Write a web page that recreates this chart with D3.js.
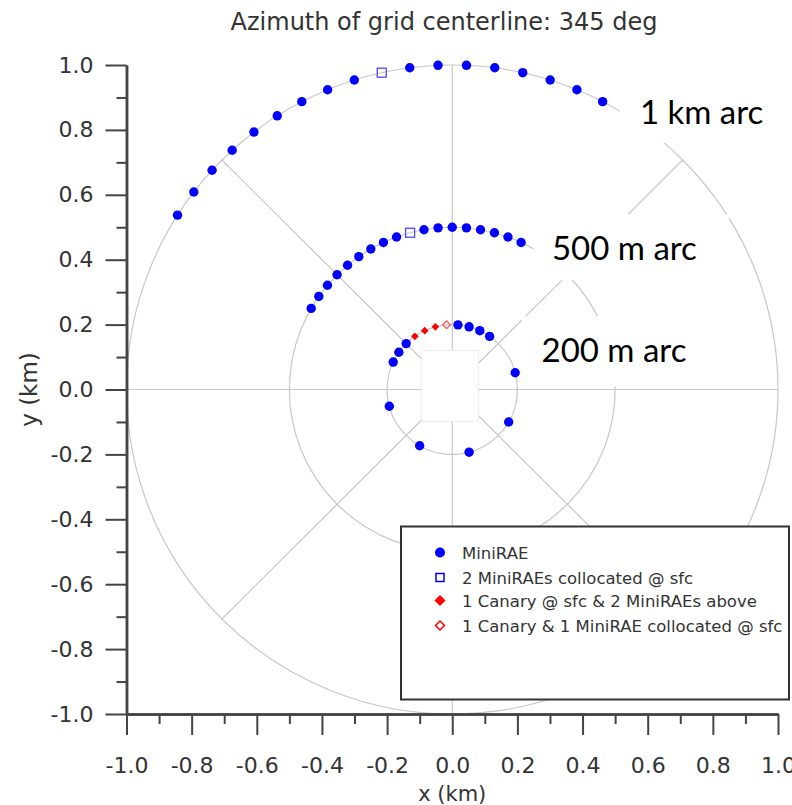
<!DOCTYPE html>
<html>
<head>
<meta charset="utf-8">
<script src="https://cdn.jsdelivr.net/npm/d3@7"></script>
<style>
  body { margin: 0; background: #fff; }
</style>
</head>
<body>
<div id="graph"></div>
<script>
// tick labels (km)
const majorTicks = [-1.0, -0.8, -0.6, -0.4, -0.2, 0.0, 0.2, 0.4, 0.6, 0.8, 1.0];
const minorTicks = [-0.9, -0.7, -0.5, -0.3, -0.1, 0.1, 0.3, 0.5, 0.7, 0.9];

// sampling arcs (radius in km) and grid spokes (deg)
const arcRadii = [1.0, 0.5, 0.2];
const arcNames = ["1 km arc", "500 m arc", "200 m arc"];
const spokeAngles = [0, 45, 90, 135, 180, 225, 270, 315];

// azimuths (deg, clockwise from +y) of the samplers on each arc
const km1MiniRAE = [-57.5, -52.5, -47.5, -42.5, -37.5, -32.5, -27.5, -22.5, -17.5, -7.5, -2.5, 2.5, 7.5, 12.5, 17.5, 22.5, 27.5];
const km1Collocated = [-12.5];
const m500MiniRAE = [-60, -55, -50, -45, -40, -35, -30, -25, -20, -10, -5, 0, 5, 10, 15, 20, 25];
const m500Collocated = [-15];
const m200MiniRAE = [-65, -55, -45, 5, 15, 25, 35, 75, 120, 165, 210, 255];
const m200CanaryAbove = [-35, -25, -15];
const m200CanaryCollocated = [-5];

const legendLabels = [
  "MiniRAE",
  "2 MiniRAEs collocated @ sfc",
  "1 Canary @ sfc & 2 MiniRAEs above",
  "1 Canary & 1 MiniRAE collocated @ sfc"
];

var width = 792, height = 805;

var svg = d3.select('#graph')
  .append('svg')
    .attr("width", width)
    .attr("height", height);

var x = d3.scaleLinear().domain([-1, 1]).range([126.5, 778]);
var y = d3.scaleLinear().domain([-1, 1]).range([714, 65]);

function px(r, az) { return x(r * Math.sin(az * Math.PI / 180)); }
function py(r, az) { return y(r * Math.cos(az * Math.PI / 180)); }

var grid = "#c8c8c8";
var font = "'DejaVu Sans', Verdana, sans-serif";

// arcs
svg.selectAll(".arc")
  .data(arcRadii)
  .enter().append("ellipse")
    .attr("cx", x(0))
    .attr("cy", y(0))
    .attr("rx", function(r) { return x(r) - x(0); })
    .attr("ry", function(r) { return y(0) - y(r); })
    .attr("fill", "none")
    .attr("stroke", grid)
    .attr("stroke-width", 1.2);

// spokes
svg.selectAll(".spoke")
  .data(spokeAngles)
  .enter().append("line")
    .attr("x1", x(0)).attr("y1", y(0))
    .attr("x2", function(a) { return px(1, a); })
    .attr("y2", function(a) { return py(1, a); })
    .attr("stroke", grid)
    .attr("stroke-width", 1.2);

// source box at the centre
svg.append("rect")
  .attr("x", x(-0.095))
  .attr("y", y(0.12))
  .attr("width", x(0.08) - x(-0.095))
  .attr("height", y(-0.098) - y(0.12))
  .attr("fill", "#fff")
  .attr("stroke", "#ececec");

// markers
function dots(radius, list) {
  svg.append("g").selectAll("circle")
    .data(list)
    .enter().append("circle")
      .attr("cx", function(a) { return px(radius, a); })
      .attr("cy", function(a) { return py(radius, a); })
      .attr("r", 4.7)
      .attr("fill", "#0000ff");
}
function squares(radius, list) {
  svg.append("g").selectAll("rect")
    .data(list)
    .enter().append("rect")
      .attr("x", function(a) { return px(radius, a) - 4.5; })
      .attr("y", function(a) { return py(radius, a) - 4.5; })
      .attr("width", 9).attr("height", 9)
      .attr("fill", "none")
      .attr("stroke", "#4a4aff")
      .attr("stroke-width", 1.3);
}
function diamonds(radius, list, filled) {
  svg.append("g").selectAll("path")
    .data(list)
    .enter().append("path")
      .attr("d", d3.symbol().type(d3.symbolSquare).size(30))
      .attr("transform", function(a) {
        return "translate(" + px(radius, a) + "," + py(radius, a) + ") rotate(45)";
      })
      .attr("fill", filled ? "#ff0000" : "none")
      .attr("stroke", filled ? "none" : "#ff5050")
      .attr("stroke-width", 1.2);
}

dots(arcRadii[0], km1MiniRAE);
squares(arcRadii[0], km1Collocated);
dots(arcRadii[1], m500MiniRAE);
squares(arcRadii[1], m500Collocated);
dots(arcRadii[2], m200MiniRAE);
diamonds(arcRadii[2], m200CanaryAbove, true);
diamonds(arcRadii[2], m200CanaryCollocated, false);

// arc labels on white boxes (box corners and text anchor in km)
var labelBoxes = [
  {x0: 0.514, x1: 1.02, y0: 0.95, y1: 0.76, tx: 0.576, ty: 0.818},
  {x0: 0.25, x1: 0.85, y0: 0.54, y1: 0.337, tx: 0.306, ty: 0.40},
  {x0: 0.214, x1: 0.775, y0: 0.225, y1: 0.01, tx: 0.274, ty: 0.085}
];
labelBoxes.forEach(function(b, i) {
  svg.append("rect")
    .attr("x", x(b.x0)).attr("y", y(b.y0))
    .attr("width", x(b.x1) - x(b.x0))
    .attr("height", y(b.y1) - y(b.y0))
    .attr("fill", "#fff");
  svg.append("text")
    .attr("x", x(b.tx)).attr("y", y(b.ty))
    .style("font-family", "Lato, 'Open Sans', sans-serif")
    .style("font-size", "33px")
    .style("fill", "#000")
    .text(arcNames[i]);
});

// axes
var tickFmt = function(d) { return d.toFixed(1); };

svg.append("g")
  .attr("transform", "translate(0," + y(-1) + ")")
  .call(d3.axisBottom(x).tickValues(majorTicks).tickSize(21).tickSizeOuter(0).tickPadding(22).tickFormat(tickFmt));
svg.append("g")
  .attr("transform", "translate(0," + y(-1) + ")")
  .call(d3.axisBottom(x).tickValues(minorTicks).tickSize(10).tickSizeOuter(0).tickFormat(""));

svg.append("g")
  .attr("transform", "translate(" + x(-1) + ",0)")
  .call(d3.axisLeft(y).tickValues(majorTicks).tickSize(21).tickSizeOuter(0).tickPadding(12).tickFormat(tickFmt));
svg.append("g")
  .attr("transform", "translate(" + x(-1) + ",0)")
  .call(d3.axisLeft(y).tickValues(minorTicks).tickSize(10).tickSizeOuter(0).tickFormat(""));

svg.selectAll(".domain").attr("stroke", "#444").attr("stroke-width", 2.5);
svg.selectAll(".tick line").attr("stroke", "#444").attr("stroke-width", 2);
svg.selectAll(".tick text")
  .style("font-family", font)
  .style("font-size", "22px")
  .style("fill", "#333");

// axis names
svg.append("text")
  .attr("text-anchor", "middle")
  .attr("x", x(0))
  .attr("y", 801)
  .style("font-family", font)
  .style("font-size", "21px")
  .style("fill", "#333")
  .text("x (km)");

svg.append("text")
  .attr("text-anchor", "middle")
  .attr("transform", "translate(37," + y(0) + ") rotate(-90)")
  .style("font-family", font)
  .style("font-size", "23px")
  .style("fill", "#333")
  .text("y (km)");

// title
svg.append("text")
  .attr("text-anchor", "middle")
  .attr("x", 444)
  .attr("y", 30)
  .style("font-family", font)
  .style("font-size", "24px")
  .style("fill", "#333")
  .text("Azimuth of grid centerline: 345 deg");

// legend
var lg = svg.append("g").attr("transform", "translate(401,526.5)");
lg.append("rect")
  .attr("width", 388).attr("height", 173)
  .attr("fill", "#fff")
  .attr("stroke", "#333")
  .attr("stroke-width", 2);

var rowY = [26, 51, 74, 99];
lg.append("circle").attr("cx", 39).attr("cy", rowY[0]).attr("r", 5).attr("fill", "#0000ff");
lg.append("rect").attr("x", 35).attr("y", rowY[1] - 4).attr("width", 8).attr("height", 8)
  .attr("fill", "none").attr("stroke", "#0000ff").attr("stroke-width", 1.5);
lg.append("path").attr("d", d3.symbol().type(d3.symbolSquare).size(60))
  .attr("transform", "translate(39," + rowY[2] + ") rotate(45)").attr("fill", "#ff0000");
lg.append("path").attr("d", d3.symbol().type(d3.symbolSquare).size(40))
  .attr("transform", "translate(39," + rowY[3] + ") rotate(45)")
  .attr("fill", "none").attr("stroke", "#ff0000").attr("stroke-width", 1.5);

lg.selectAll(".lab")
  .data(legendLabels)
  .enter().append("text")
    .attr("x", 61)
    .attr("y", function(d, i) { return rowY[i] + 6; })
    .style("font-family", font)
    .style("font-size", "16.5px")
    .style("fill", "#333")
    .text(function(d) { return d; });
</script>
</body>
</html>
